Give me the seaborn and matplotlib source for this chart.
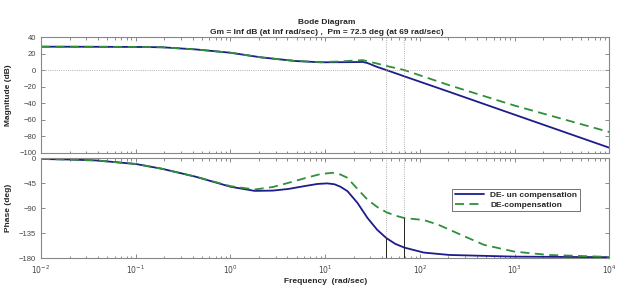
import matplotlib
matplotlib.use("Agg")
import matplotlib.pyplot as plt
import seaborn as sns
import pandas as pd

# magnitude readings (rad/sec, dB)
freq_mag_un = [0.01, 0.03, 0.1, 0.19, 0.43, 1, 2.1, 4.8, 9, 18.6, 25, 28, 35, 44.4, 68.6, 200, 1000, 10000]
mag_un = [28.3, 28.2, 28, 27.6, 25, 21, 15.4, 11, 9.4, 9.6, 9.8, 8.5, 4, 0, -7.6, -26, -54, -94]
freq_mag_comp = [0.01, 0.03, 0.1, 0.19, 0.43, 1, 2.1, 4.8, 9, 15, 20, 25, 35, 44.4, 68.6, 200, 1000, 10000]
mag_comp = [28.3, 28.2, 28, 27.6, 25, 21, 15.4, 11.1, 9.6, 10.5, 11.5, 12, 8, 5, 0, -18, -43, -75]

# phase readings (rad/sec, deg)
freq_ph_un = [0.01, 0.02, 0.038, 0.1, 0.19, 0.43, 1, 1.8, 2.8, 4.1, 6, 8.3, 10.5, 12.5, 14.5, 17.2, 21.9,
              27.9, 35.4, 44.4, 55, 68.6, 110, 206, 1000, 10000]
ph_un = [-1, -2, -3.6, -10, -18.7, -33, -51, -58.5, -58, -55, -50, -46, -45, -46.5, -51, -59, -80,
         -107, -128.6, -143.7, -154, -160.7, -169.7, -174, -177, -178]
freq_ph_comp = [0.01, 0.02, 0.038, 0.1, 0.19, 0.43, 1, 1.8, 2.8, 4.1, 6, 9, 12, 14.5, 17.2, 21.9, 27.9,
                35.4, 44.4, 55, 68.6, 110, 157, 272, 476, 1000, 2300, 10000]
ph_comp = [-1, -2, -3.6, -10, -18.7, -33, -50, -56, -51.5, -44, -36, -28, -26, -29, -35, -55, -74,
           -87.5, -97, -103, -107.5, -111, -119.6, -137.7, -155.8, -168, -174, -177.5]

# gain crossover frequencies and phase there
wc = [44.4, 68.6]
ph_at_wc = [-143.7, -107.5]

labels = ["DE- un compensation", "DE-compensation"]
mag_ticks = [40, 20, 0, -20, -40, -60, -80, -100]
ph_ticks = [0, -45, -90, -135, -180]
decades = [1e-2, 1e-1, 1e0, 1e1, 1e2, 1e3, 1e4]
decade_labels = ["$10^{-2}$", "$10^{-1}$", "$10^{0}$", "$10^{1}$", "$10^{2}$", "$10^{3}$", "$10^{4}$"]

sns.set_style("ticks")
plt.rcParams["font.family"] = ["Liberation Sans", "DejaVu Sans"]
plt.rcParams["xtick.direction"] = "in"
plt.rcParams["ytick.direction"] = "in"

fig = plt.figure(figsize=(6.17, 2.87), dpi=100)
ax1 = fig.add_axes([0.0665, 0.468, 0.921, 0.403])
ax2 = fig.add_axes([0.0665, 0.100, 0.921, 0.348])

blue = "#1c1c8c"
green = "#2f8f3a"

sns.lineplot(x=freq_mag_un, y=mag_un, ax=ax1, color=blue, lw=1.3)
sns.lineplot(x=freq_mag_comp, y=mag_comp, ax=ax1, color=green, lw=1.3, linestyle=(0, (5, 3)))
sns.lineplot(x=freq_ph_un, y=ph_un, ax=ax2, color=blue, lw=1.3, label=labels[0])
sns.lineplot(x=freq_ph_comp, y=ph_comp, ax=ax2, color=green, lw=1.3, linestyle=(0, (5, 3)), label=labels[1])

for ax in (ax1, ax2):
    ax.set_xscale("log")
    ax.set_xlim(1e-2, 1e4)
    ax.set_xticks(decades)
    for w in wc:
        ax.axvline(w, color="#999999", lw=0.6, linestyle=":")
    for s in ax.spines.values():
        s.set_color("#888888")
        s.set_linewidth(0.8)
    ax.tick_params(which="both", top=True, right=True, colors="#777777", labelcolor="#444444",
                   labelsize=5.5, width=0.6)
    ax.tick_params(which="major", length=3)
    ax.tick_params(which="minor", length=1.8)

ax1.axhline(0, color="#999999", lw=0.6, linestyle=":")
ax1.set_ylim(-100, 40)
ax1.set_yticks(mag_ticks)
ax1.set_xticklabels([])
ax1.set_ylabel("Magnitude (dB)", fontsize=6, fontweight="bold", labelpad=5)

ax2.axhline(-180, color="#999999", lw=0.6, linestyle=":")
for w, p in zip(wc, ph_at_wc):
    ax2.plot([w, w], [-180, p], color="#222222", lw=0.7)
ax2.set_ylim(-180, 0)
ax2.set_yticks(ph_ticks)
ax2.set_xticklabels(decade_labels)
ax2.set_ylabel("Phase (deg)", fontsize=6, fontweight="bold", labelpad=5)
ax2.set_xlabel("Frequency  (rad/sec)", fontsize=6, fontweight="bold", labelpad=2)

leg = ax2.legend(loc="upper left", bbox_to_anchor=(0.716, 0.735), fontsize=6, frameon=True,
                 fancybox=False, handlelength=3.5, borderpad=0.3, labelspacing=0.2)
leg.get_frame().set_edgecolor("#333333")
leg.get_frame().set_linewidth(0.6)
for t in leg.get_texts():
    t.set_fontweight("bold")

fig.text(0.53, 0.918, "Bode Diagram", ha="center", fontsize=6, fontweight="bold")
fig.text(0.53, 0.883, "Gm = Inf dB (at Inf rad/sec) ,  Pm = 72.5 deg (at 69 rad/sec)",
         ha="center", fontsize=6, fontweight="bold")

fig.savefig("out.png", dpi=100)
